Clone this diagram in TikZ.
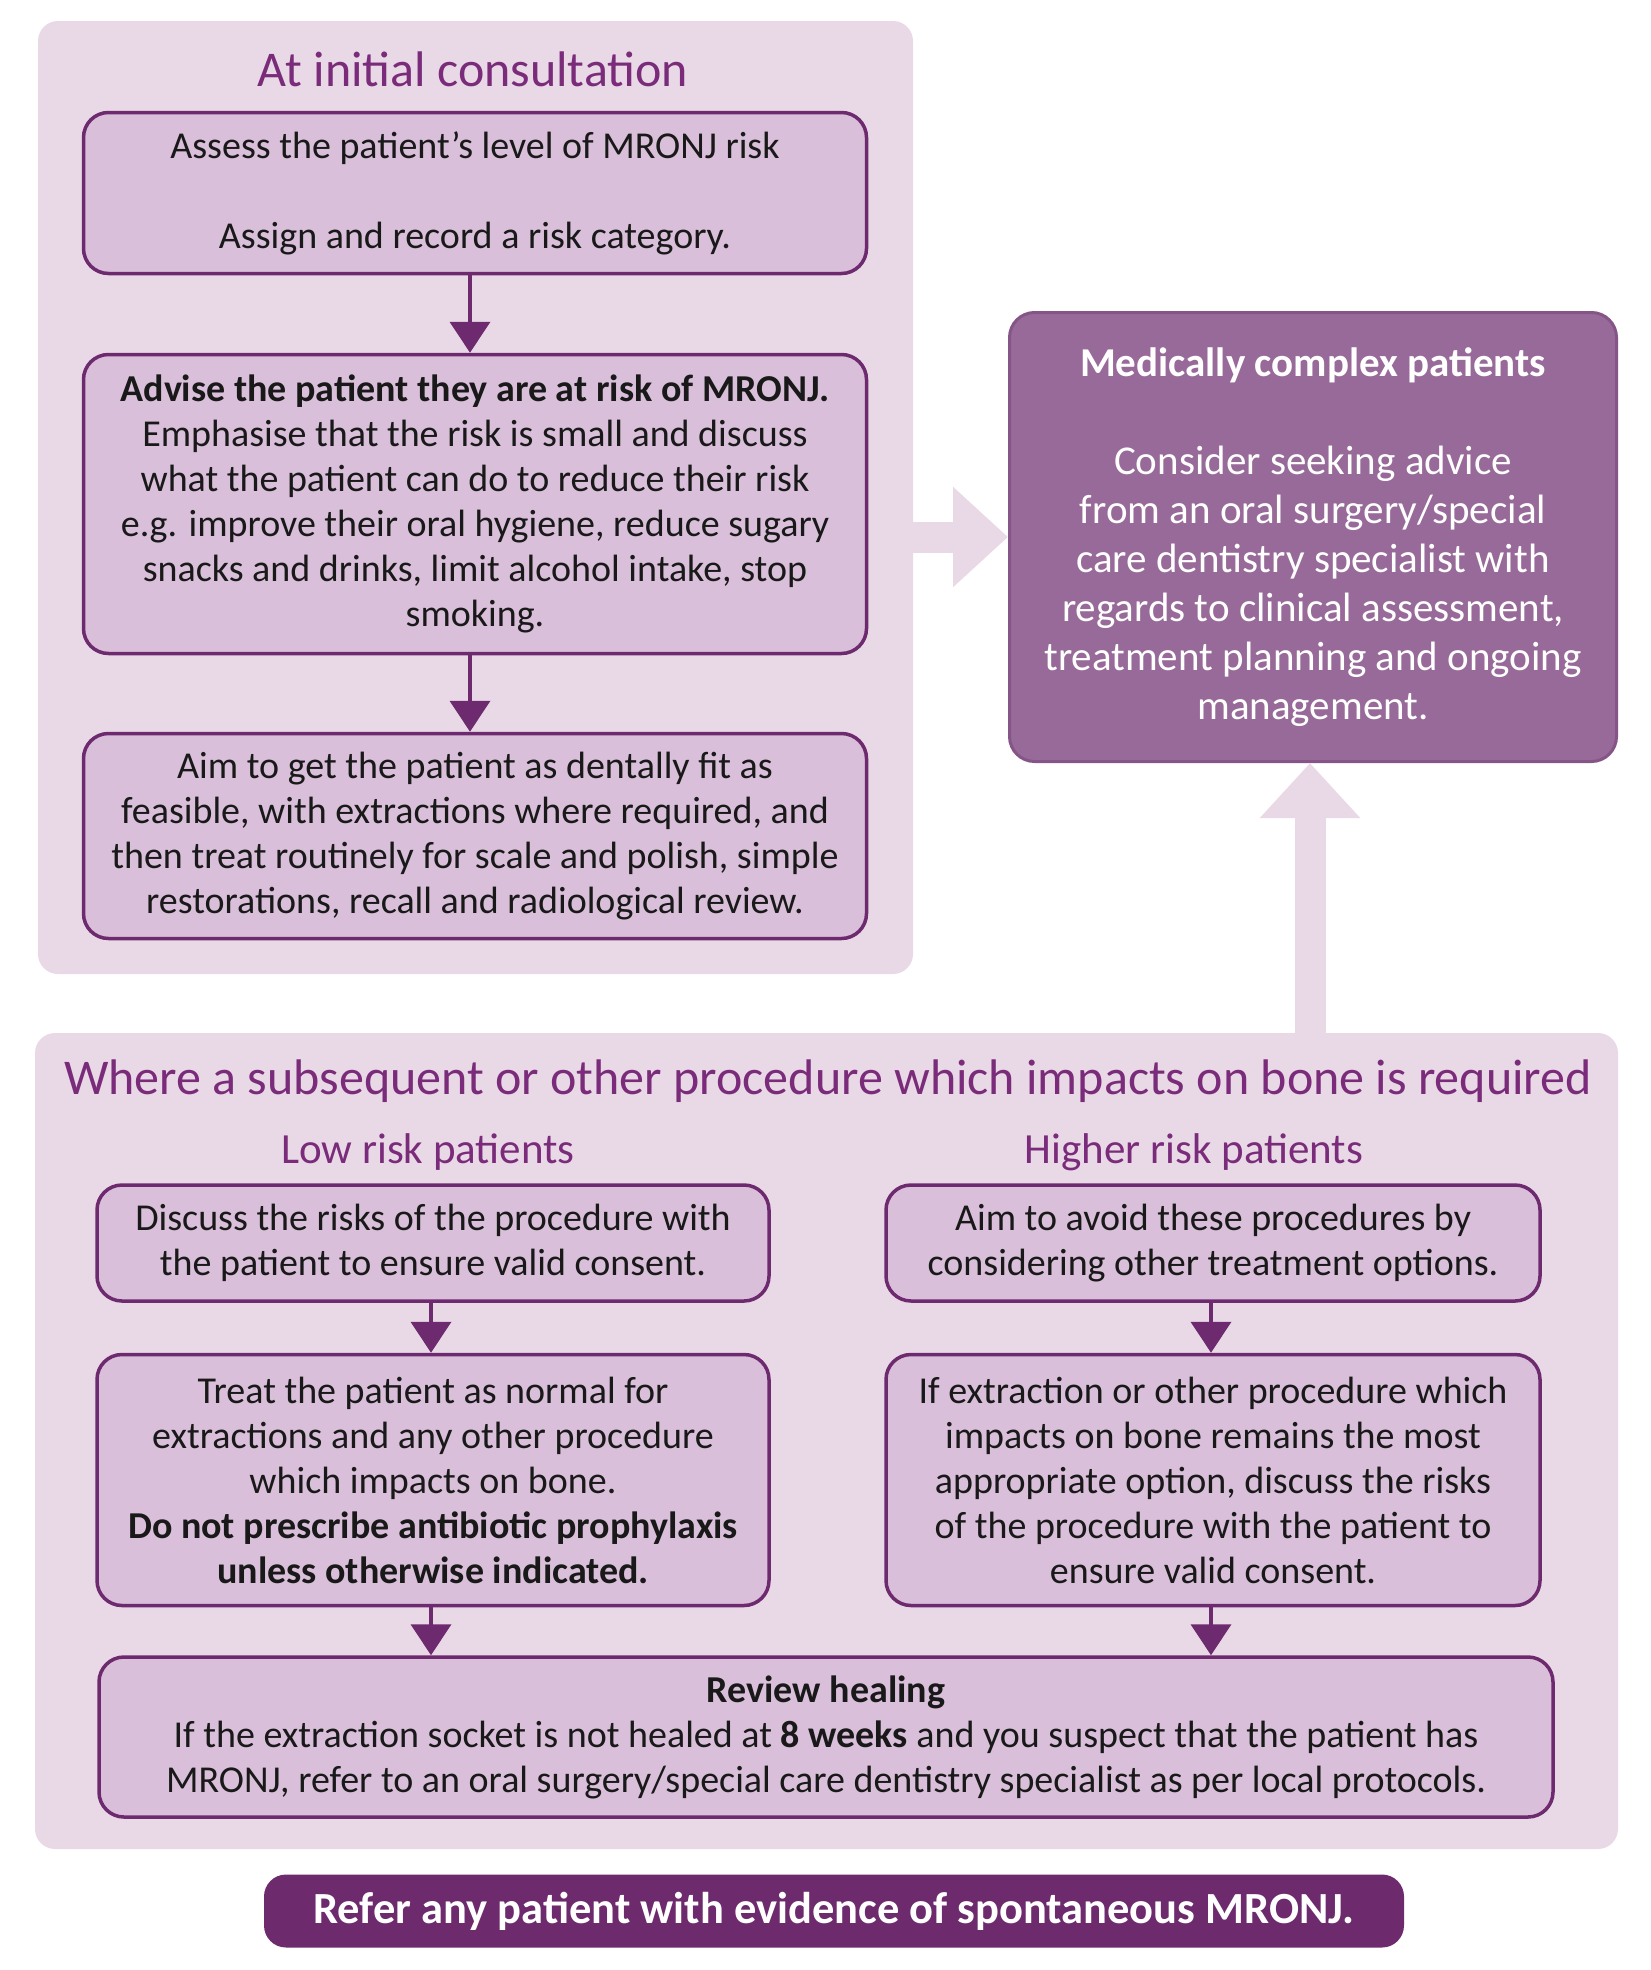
\documentclass[tikz,border=0pt]{standalone}
\usepackage{fontspec}
\setmainfont{Carlito}
\usetikzlibrary{arrows.meta, positioning}
\definecolor{panelpink}{HTML}{E9D9E6}
\definecolor{boxpink}{HTML}{D9BFD9}
\definecolor{boxline}{HTML}{6E2A6F}
\definecolor{mcfill}{HTML}{986A99}
\definecolor{mcline}{HTML}{845586}
\definecolor{bannerpurple}{HTML}{6D2A6D}
\definecolor{titlepurple}{HTML}{7A2C7B}
\newcommand*{\bodyfont}{\fontsize{38}{45}\selectfont}
\newcommand*{\mcfont}{\fontsize{41}{49}\selectfont}
\tikzset{
 panel/.style={fill=panelpink, rounded corners=20pt, inner sep=0pt},
 paneltitle/.style={text=titlepurple, font=\fontsize{50}{60}\selectfont, inner sep=0pt},
 subtitle/.style={text=titlepurple, font=\fontsize{43}{50}\selectfont, inner sep=0pt},
 stepbox/.style={draw=boxline, line width=3.5pt, fill=boxpink, rounded corners=25pt,
   align=center, inner sep=0pt, text=black!90, font=\bodyfont},
 flow/.style={draw=boxline, line width=4pt, -{Triangle[width=40pt,length=31pt]}},
 bigarrow/.style={draw=panelpink, line width=31pt, -{Triangle[width=97pt,length=55pt]}}
}

\begin{document}
\begin{tikzpicture}[x=1pt, y=-1pt]
 \useasboundingbox (0,0) rectangle (1650,1970);

 \node[panel, minimum width=875pt, minimum height=953pt] (p1) at (475.5,497.5) {};
 \node[panel, minimum width=1583pt, minimum height=816pt] (p2) at (826.5,1441) {};

 \node[paneltitle] (t1) at (473,69) {At initial consultation};
 \node[stepbox, minimum width=783pt, minimum height=161pt] (b1) at (475,193)
  {Assess the patient’s level of MRONJ risk\\[45pt]Assign and record a risk category.};
 \node[stepbox, minimum width=783pt, minimum height=299pt] (b2) at (475,504)
  {\textbf{Advise the patient they are at risk of MRONJ.}\\
   Emphasise that the risk is small and discuss\\
   what the patient can do to reduce their risk\\
   e.g. improve their oral hygiene, reduce sugary\\
   snacks and drinks, limit alcohol intake, stop\\
   smoking.};
 \node[stepbox, minimum width=783pt, minimum height=205pt] (b3) at (475,836)
  {Aim to get the patient as dentally fit as\\
   feasible, with extractions where required, and\\
   then treat routinely for scale and polish, simple\\
   restorations, recall and radiological review.};

 \node[draw=mcline, line width=3pt, fill=mcfill, rounded corners=25pt, align=center,
   inner sep=0pt, text=white, font=\mcfont, minimum width=607pt, minimum height=449pt]
   (mc) at (1313,537)
  {\textbf{Medically complex patients}\\[49pt]
   Consider seeking advice\\
   from an oral surgery/special\\
   care dentistry specialist with\\
   regards to clinical assessment,\\
   treatment planning and ongoing\\
   management.};

 \node[paneltitle] (t2) at (828,1081) {Where a subsequent or other procedure which impacts on bone is required};
 \node[subtitle] (lowt) at (428,1152) {Low risk patients};
 \node[subtitle] (hight) at (1194,1152) {Higher risk patients};

 \node[stepbox, minimum width=672pt, minimum height=116pt] (l1) at (433,1243)
  {Discuss the risks of the procedure with\\
   the patient to ensure valid consent.};
 \node[stepbox, minimum width=672pt, minimum height=251pt] (l2) at (433,1480)
  {Treat the patient as normal for\\
   extractions and any other procedure\\
   which impacts on bone.\\
   \textbf{Do not prescribe antibiotic prophylaxis}\\
   \textbf{unless otherwise indicated.}};
 \node[stepbox, minimum width=654pt, minimum height=116pt] (r1) at (1213,1243)
  {Aim to avoid these procedures by\\
   considering other treatment options.};
 \node[stepbox, minimum width=654pt, minimum height=251pt] (r2) at (1213,1480)
  {If extraction or other procedure which\\
   impacts on bone remains the most\\
   appropriate option, discuss the risks\\
   of the procedure with the patient to\\
   ensure valid consent.};
 \node[stepbox, minimum width=1454pt, minimum height=160pt] (rev) at (826,1737)
  {\textbf{Review healing}\\
   If the extraction socket is not healed at \textbf{8 weeks} and you suspect that the patient has\\
   MRONJ, refer to an oral surgery/special care dentistry specialist as per local protocols.};

 \node[fill=bannerpurple, rounded corners=22pt, inner sep=0pt, text=white,
   font=\fontsize{44.5}{52}\selectfont\bfseries, minimum width=1140pt, minimum height=73pt]
   (ban) at (834,1911) {Refer any patient with evidence of spontaneous MRONJ.};

 \draw[bigarrow] (p1.east |- mc.west) -- (mc.west);
 \draw[bigarrow] ([xshift=-3pt]mc.south |- p2.north) -- ([xshift=-3pt]mc.south);

 \draw[flow] ([xshift=-5pt]b1.south) -- ([xshift=-5pt]b2.north);
 \draw[flow] ([xshift=-5pt]b2.south) -- ([xshift=-5pt]b3.north);
 \draw[flow] ([xshift=-2pt]l1.south) -- ([xshift=-2pt]l2.north);
 \draw[flow] ([xshift=-2pt]r1.south) -- ([xshift=-2pt]r2.north);
 \draw[flow] ([xshift=-2pt]l2.south) -- ([xshift=-2pt]l2.south |- rev.north);
 \draw[flow] ([xshift=-2pt]r2.south) -- ([xshift=-2pt]r2.south |- rev.north);
\end{tikzpicture}
\end{document}
